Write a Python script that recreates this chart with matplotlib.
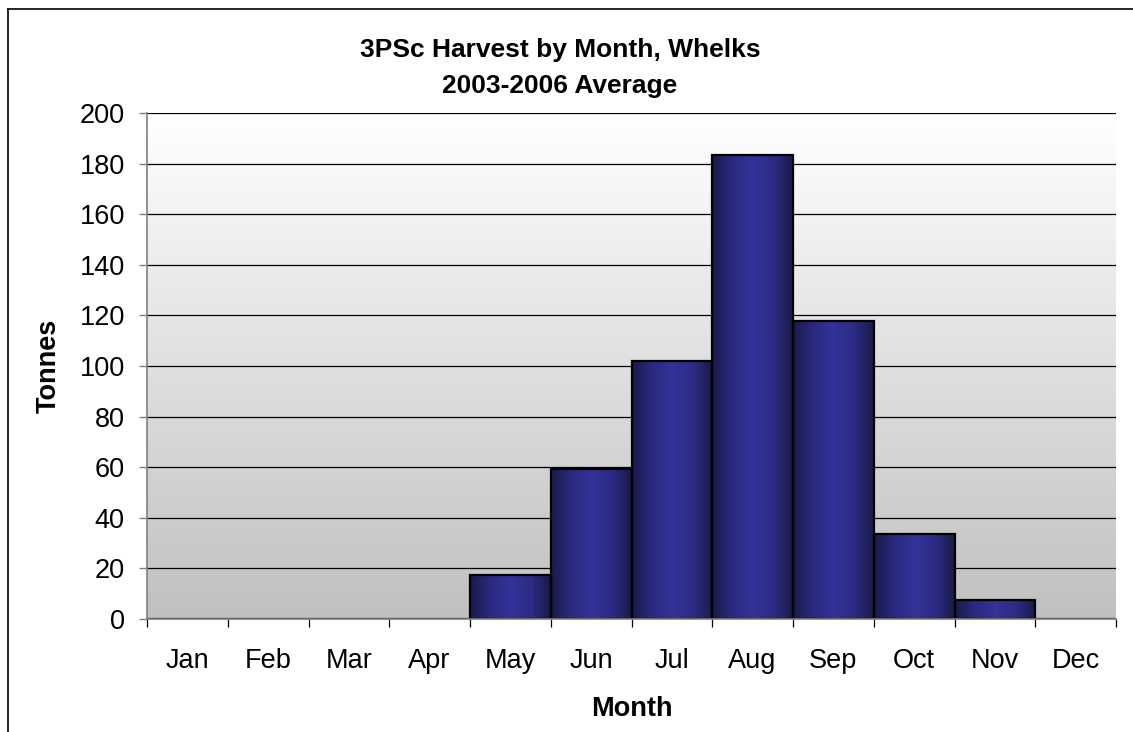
import numpy as np
import matplotlib.pyplot as plt
from matplotlib.colors import LinearSegmentedColormap
from matplotlib.lines import Line2D

plt.rcParams['font.family'] = ['Liberation Sans', 'DejaVu Sans']

# 3PSc whelk harvest, 2003-2006 monthly average (tonnes)
months = ['Jan', 'Feb', 'Mar', 'Apr', 'May', 'Jun', 'Jul', 'Aug', 'Sep', 'Oct', 'Nov', 'Dec']
tonnes = [0, 0, 0, 0, 17.2, 59.2, 102.1, 183.5, 117.6, 33.7, 7.4, 0]
yticks = [0, 20, 40, 60, 80, 100, 120, 140, 160, 180, 200]

W, H = 1133, 732
fig = plt.figure(figsize=(W / 100, H / 100), dpi=100)
ax = fig.add_axes([147 / W, 113 / H, 969 / W, 506 / H])

x = np.arange(len(months))
xmin, xmax = -0.5, len(months) - 0.5

# plot area: grey at the bottom fading to white at the top
bg = np.linspace(1, 0, 256).reshape(-1, 1)
bg_cmap = LinearSegmentedColormap.from_list('bg', ['#ffffff', '#c0c0c0'])
ax.imshow(bg, cmap=bg_cmap, aspect='auto', extent=(xmin, xmax, 0, 200),
          origin='lower', zorder=0, vmin=0, vmax=1)

ax.set_yticks(yticks)
ax.yaxis.grid(True, color='black', linewidth=0.9)
ax.set_axisbelow(True)

# bars with a horizontal shade: dark edges, lighter middle
bar_cmap = LinearSegmentedColormap.from_list(
    'bar', ['#1a1a48', '#2a2a80', '#333399', '#2c2c86', '#1a1a48'])
shade = np.linspace(0, 1, 256).reshape(1, -1)
bars = ax.bar(x, tonnes, width=1.0, color='none', edgecolor='black', linewidth=1.6, zorder=3)
for b in bars:
    h = b.get_height()
    if h <= 0:
        continue
    x0 = b.get_x()
    im = ax.imshow(shade, cmap=bar_cmap, aspect='auto',
                   extent=(x0, x0 + b.get_width(), 0, h), zorder=2)
    im.set_clip_path(b)
ax.set_xlim(xmin, xmax)
ax.set_ylim(0, 200)

for side in ['top', 'right']:
    ax.spines[side].set_visible(False)
for side in ['left', 'bottom']:
    ax.spines[side].set_color('#808080')
    ax.spines[side].set_linewidth(1.2)
    ax.spines[side].set_zorder(4)

# month labels centred in each slot, ticks on slot boundaries
ax.set_xticks(x)
ax.set_xticklabels(months)
ax.set_xticks(np.arange(-0.5, len(months)), minor=True)
ax.tick_params(axis='x', which='major', length=0, pad=21, labelsize=19.5)
ax.tick_params(axis='x', which='minor', length=6, color='black', width=0.9)
ax.tick_params(axis='y', length=6, color='#808080', width=1.0, pad=10, labelsize=19.5)

ax.set_xlabel('Month', fontsize=19.5, fontweight='bold', labelpad=16)
ax.set_ylabel('Tonnes', fontsize=19.5, fontweight='bold', labelpad=13)

fig.text(560 / W, 1 - 50 / H, '3PSc Harvest by Month, Whelks', ha='center', va='center',
         fontsize=19, fontweight='bold')
fig.text(560 / W, 1 - 86 / H, '2003-2006 Average', ha='center', va='center',
         fontsize=19, fontweight='bold')

# chart frame (left and top edges)
fig.add_artist(Line2D([8 / W, 8 / W], [0, 1 - 9 / H], color='black', linewidth=1.2))
fig.add_artist(Line2D([8 / W, 1], [1 - 9 / H, 1 - 9 / H], color='black', linewidth=1.2))

fig.savefig('out.png', dpi=100)
